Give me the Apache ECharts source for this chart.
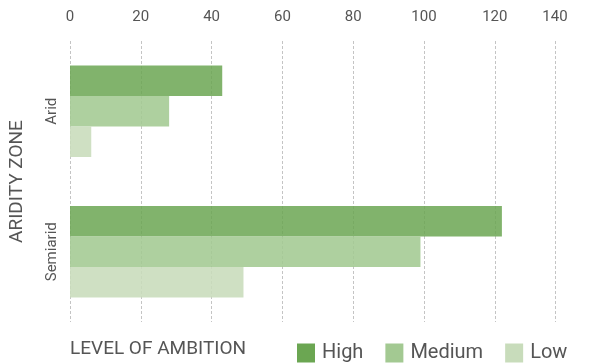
<!DOCTYPE html>
<html>
<head>
<meta charset="utf-8">
<script src="https://cdn.jsdelivr.net/npm/echarts@6/dist/echarts.min.js"></script>
<style>
    html, body { margin: 0; padding: 0; background: #fff; }
    #chart { width: 591px; height: 363px; }
</style>
</head>
<body>
<div id="chart"></div>
<script>
// 数据
const zones = ['Arid', 'Semiarid'];
const high = [43, 122];
const medium = [28, 99];
const low = [6, 49];
const tickLabels = ['0', '20', '40', '60', '80', '100', '120', '140'];
const xMax = 137;

const textColor = '#555555';
const fontFamily = 'Roboto, "DejaVu Sans", sans-serif';

const chart = echarts.init(document.getElementById('chart'));

const option = {
    animation: false,
    textStyle: { fontFamily: fontFamily },
    grid: {
        left: 70,
        right: 36,
        top: 41,
        bottom: 41,
        containLabel: false,
        outerBoundsMode: 'none'
    },
    title: {
        text: 'LEVEL OF AMBITION',
        left: 65,
        top: 335,
        textStyle: {
            color: textColor,
            fontSize: 19,
            fontWeight: 'normal',
            fontFamily: fontFamily
        }
    },
    legend: {
        left: 292,
        top: 338,
        itemWidth: 18,
        itemHeight: 19,
        itemGap: 22,
        icon: 'rect',
        itemStyle: { opacity: 1 },
        textStyle: { color: textColor, fontSize: 20, padding: [0, 0, 0, 2] },
        data: ['High', 'Medium', 'Low']
    },
    xAxis: {
        type: 'value',
        position: 'top',
        min: 0,
        max: xMax,
        interval: 20,
        axisLine: { show: false },
        axisTick: { show: false },
        axisLabel: {
            color: textColor,
            fontSize: 15,
            margin: 16,
            showMaxLabel: true,
            formatter: function (v) {
                if (v === xMax) return tickLabels[tickLabels.length - 1];
                return tickLabels[Math.round(v / 20)];
            }
        },
        splitLine: {
            show: true,
            lineStyle: { color: '#c4c4c4', type: [3, 2], width: 1 }
        }
    },
    yAxis: {
        type: 'category',
        data: zones,
        inverse: true,
        name: 'ARIDITY ZONE',
        nameLocation: 'middle',
        nameRotate: 90,
        nameGap: 43,
        nameTextStyle: { color: textColor, fontSize: 19 },
        axisLine: { show: false },
        axisTick: { show: false },
        axisLabel: {
            color: textColor,
            fontSize: 15,
            rotate: 90,
            margin: 10
        }
    },
    series: [
        {
            name: 'High',
            type: 'bar',
            data: high,
            barWidth: 30.5,
            barGap: '0%',
            itemStyle: { color: '#6ba652', opacity: 0.85 }
        },
        {
            name: 'Medium',
            type: 'bar',
            data: medium,
            barWidth: 30.5,
            barGap: '0%',
            itemStyle: { color: '#a3c992', opacity: 0.88 }
        },
        {
            name: 'Low',
            type: 'bar',
            data: low,
            barWidth: 30.5,
            barGap: '0%',
            itemStyle: { color: '#c8dcbb', opacity: 0.88 }
        }
    ]
};

chart.setOption(option);

window.addEventListener('resize', function () {
    chart.resize();
});
</script>
</body>
</html>
